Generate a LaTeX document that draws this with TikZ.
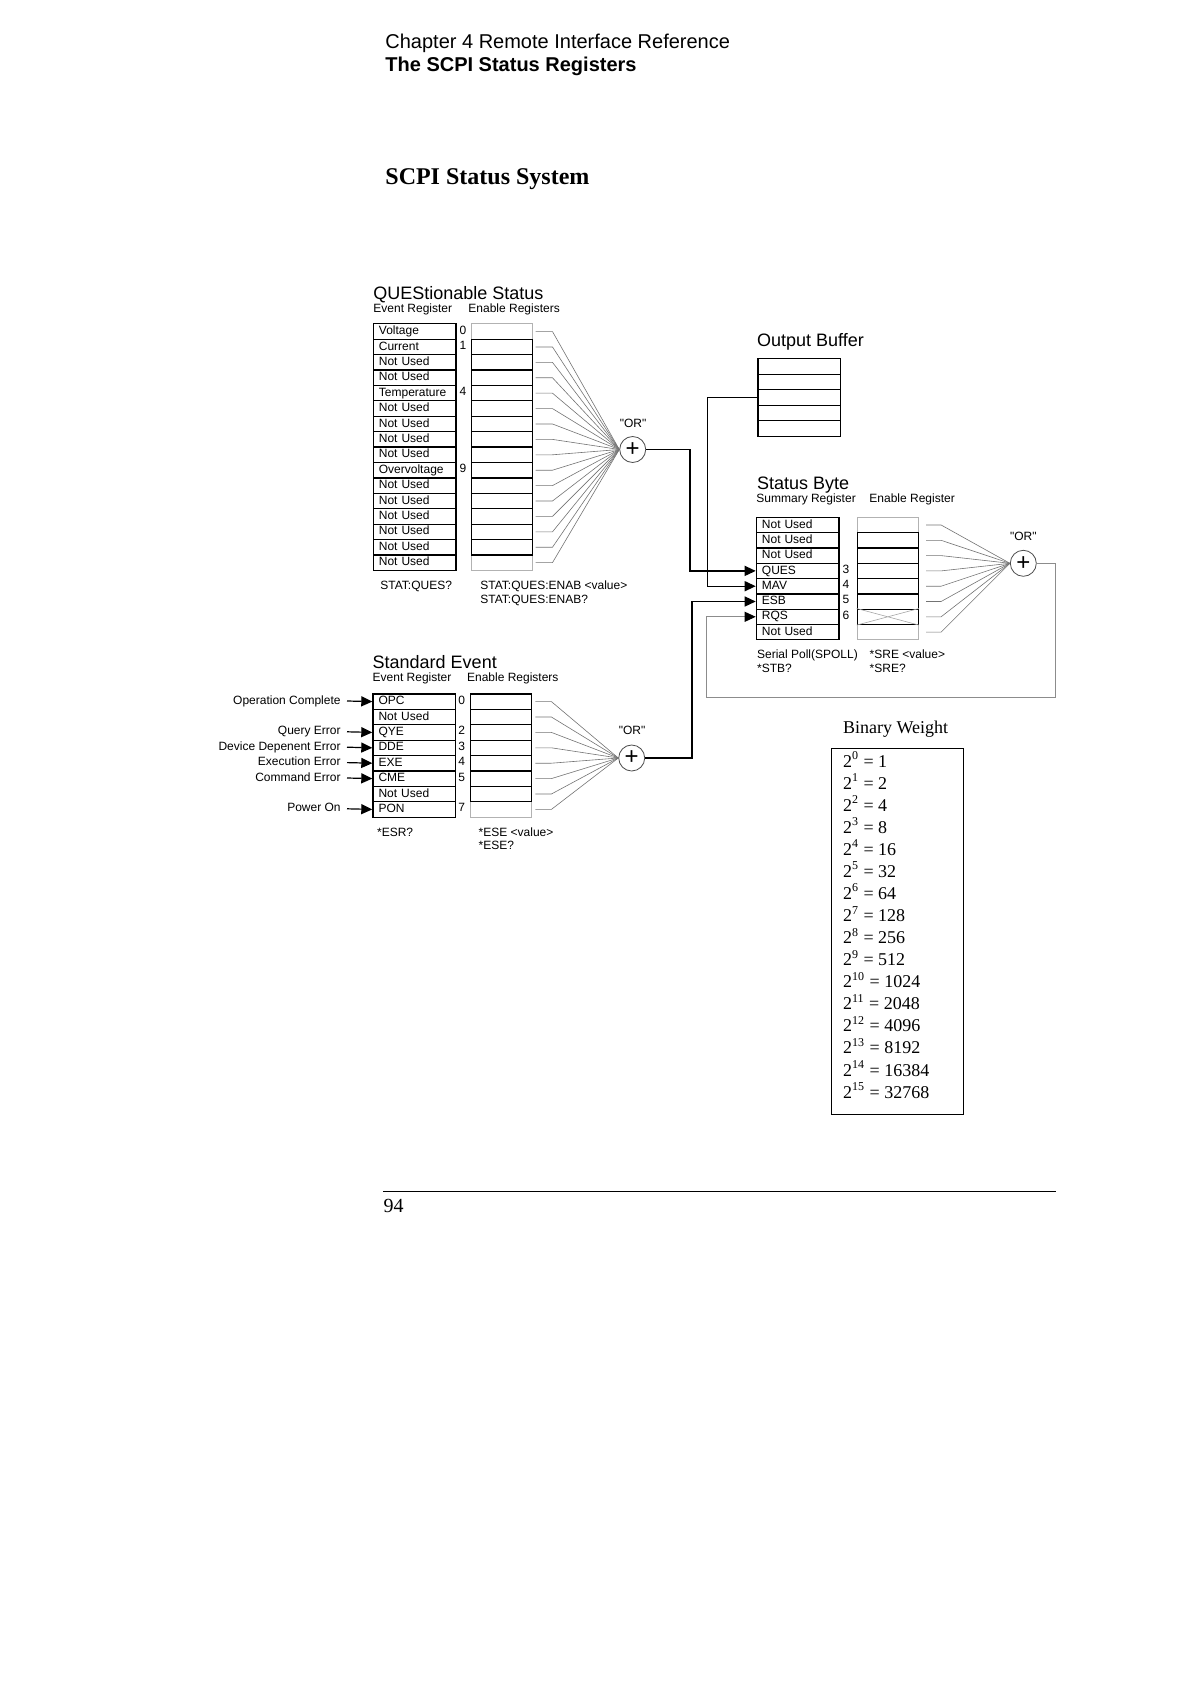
\documentclass[tikz,border=0pt]{standalone}
\usepackage{fontspec}
\setmainfont{Liberation Sans}
\newfontfamily\tms{Liberation Serif}
\usetikzlibrary{positioning,arrows.meta}
\newcommand{\straightq}{\XeTeXglyph\XeTeXcharglyph"22\relax}

\begin{document}
\begin{tikzpicture}[x=0.5pt,y=-0.5pt,
 txt/.style={inner sep=0pt,font=\fontsize{6}{7}\selectfont},
 bit/.style={txt,text height=4.4pt,text depth=1.3pt},
 ttl/.style={inner sep=0pt,anchor=base west,font=\fontsize{9}{10}\selectfont},
 evcell/.style={draw,line width=0.6pt,anchor=north west,minimum height=7.7pt,text width=35.7pt,
  inner xsep=2.8pt,inner ysep=0pt,text height=4.4pt,text depth=1.3pt,align=left,font=\fontsize{6}{7}\selectfont},
 encell/.style={draw,line width=0.6pt,anchor=north west,minimum width=30.5pt,minimum height=7.7pt,inner sep=0pt},
 faint/.style={draw=black!30},
 orgate/.style={circle,draw=black!70,line width=0.4pt,minimum size=13pt,inner sep=0pt,font=\fontsize{12}{12}\selectfont},
 fan/.style={draw=black!55,line width=0.3pt},
 conn/.style={-{Triangle[length=5.5pt,width=5pt]},line width=0.7pt},
 fb/.style={-{Triangle[length=5.5pt,width=5pt,black]},draw=black!45,line width=0.5pt},
 serif/.style={inner sep=0pt,anchor=base west,font=\tms\fontsize{9}{11}\selectfont}]
\useasboundingbox (0,0) rectangle (1191,1684);
% page head
\node[anchor=base west,inner sep=0pt,font=\fontsize{10}{12}\selectfont] (chap) at (385,49) {Chapter 4 Remote Interface Reference};
\node[anchor=base west,inner sep=0pt,font=\fontsize{10}{12}\selectfont\bfseries] (sect) at (385,71.5) {The SCPI Status Registers};
\node[anchor=base west,inner sep=0pt,font=\tms\fontsize{12}{14}\selectfont\bfseries] (systitle) at (385,185) {SCPI Status System};

% questionable status
\node[ttl] (qtitle) at (373,300) {QUEStionable Status};
\node[txt,anchor=base west] (qevlbl) at (373,312.7) {Event Register};
\node[txt,anchor=base west] (qenlbl) at (468,312.7) {Enable Registers};
\foreach \t [count=\i from 0] in {Voltage,Current,Not Used,Not Used,Temperature,Not Used,Not Used,Not Used,
 Not Used,Overvoltage,Not Used,Not Used,Not Used,Not Used,Not Used,Not Used}
 \node[evcell] (qev\i) at (372.7,{323.3+15.4*\i}) {\t};
\foreach \i in {0,15} \node[encell,faint] (qen\i) at (470.7,{323.3+15.4*\i}) {};
\foreach \i in {1,...,14} \node[encell] (qen\i) at (470.7,{323.3+15.4*\i}) {};
\foreach \b in {0,1,4,9} \node[bit] (qnum\b) at (463,{323.3+15.4*(\b+0.5)}) {\b};
\node[orgate] (qor) at (632.7,449.5) {+};
\node[txt] (qorlbl) at (633,423) {\straightq OR\straightq};
\foreach \i in {0,...,15} \draw[fan] ([xshift=1.3pt]qen\i.east) -- ++(17,0) -- (qor.west);
\node[txt,anchor=base west] (qcmd1) at (380,589) {STAT:QUES?};
\node[txt,anchor=base west] (qcmd2) at (480,589) {STAT:QUES:ENAB <value>};
\node[txt,anchor=base west] (qcmd3) at (480,603.3) {STAT:QUES:ENAB?};

% standard event
\node[ttl] (stitle) at (372.3,668.3) {Standard Event};
\node[txt,anchor=base west] (sevlbl) at (372.3,681.7) {Event Register};
\node[txt,anchor=base west] (senlbl) at (466.7,681.7) {Enable Registers};
\foreach \t [count=\i from 0] in {OPC,Not Used,QYE,DDE,EXE,CME,Not Used,PON}
 \node[evcell] (sev\i) at (372.3,{693.3+15.4*\i}) {\t};
\node[encell,faint] (sen7) at (470,{693.3+15.4*7}) {};
\foreach \i in {0,...,6} \node[encell] (sen\i) at (470,{693.3+15.4*\i}) {};
\foreach \b in {0,2,3,4,5,7} \node[bit] (snum\b) at (461.7,{693.3+15.4*(\b+0.5)}) {\b};
\foreach \t/\b in {Operation Complete/0,Query Error/2,Device Depenent Error/3,Execution Error/4,Command Error/5,Power On/7}{
 \node[bit,anchor=east,inner xsep=3pt] (sin\b) at (347,{693.3+15.4*(\b+0.5)}) {\t};
 \draw[conn,line width=0.6pt] (sin\b.east) -- (sev\b.west);}
\node[orgate] (sor) at (631.7,758) {+};
\node[txt] (sorlbl) at (632,730) {\straightq OR\straightq};
\foreach \i in {0,...,7} \draw[fan] ([xshift=1.6pt]sen\i.east) -- ++(16,0) -- (sor.west);
\node[txt,anchor=base west] (scmd1) at (376.7,836.5) {*ESR?};
\node[txt,anchor=base west] (scmd2) at (478.3,836.5) {*ESE <value>};
\node[txt,anchor=base west] (scmd3) at (478.3,849.3) {*ESE?};

% output buffer
\node[ttl] (otitle) at (756.7,346.7) {Output Buffer};
\foreach \i in {0,...,4} \node[encell,minimum width=41.35pt,minimum height=7.75pt] (ob\i) at (757.3,{358.3+15.5*\i}) {};

% status byte
\node[ttl] (btitle) at (756.7,489.3) {Status Byte};
\node[txt,anchor=base west] (bsumlbl) at (756,502.7) {Summary Register};
\node[txt,anchor=base west] (benlbl) at (869,502.7) {Enable Register};
\foreach \t [count=\i from 0] in {Not Used,Not Used,Not Used,QUES,MAV,ESB,RQS,Not Used}
 \node[evcell] (bsum\i) at (755.7,{516.7+15.3*\i}) {\t};
\foreach \i in {0,7} \node[encell,faint] (ben\i) at (856.7,{516.7+15.3*\i}) {};
\foreach \i in {1,...,6} \node[encell] (ben\i) at (856.7,{516.7+15.3*\i}) {};
\draw[fan,draw=black!35] (ben6.north west) -- (ben6.south east) (ben6.south west) -- (ben6.north east);
\foreach \b in {3,4,5,6} \node[bit] (bnum\b) at (846,{516.7+15.3*(\b+0.5)}) {\b};
\node[orgate] (bor) at (1023.3,563.3) {+};
\node[txt] (borlbl) at (1023.3,536.7) {\straightq OR\straightq};
\foreach \i in {0,...,7} \draw[fan] ([xshift=3.6pt]ben\i.east) -- ++(15,0) -- (bor.west);
\node[txt,anchor=base west] (bcmd1) at (756.7,658.3) {Serial Poll(SPOLL)};
\node[txt,anchor=base west] (bcmd2) at (756.7,672.7) {*STB?};
\node[txt,anchor=base west] (bcmd3) at (869.3,658.3) {*SRE <value>};
\node[txt,anchor=base west] (bcmd4) at (869.3,672.7) {*SRE?};

% summary lines
\draw[conn] (qor.east) -- ++(44,0) |- (bsum3.west);
\draw[conn] (ob2.west) -- ++(-50,0) |- (bsum4.west);
\draw[conn] (sor.east) -- ++(47,0) |- (bsum5.west);
\coordinate (fbturn) at (706.7,697);
\draw[fb] (bor.east) -- ++(18.7,0) |- (fbturn) |- (bsum6.west);

% binary weight
\node[serif] (bwtitle) at (842.7,733) {Binary Weight};
\node[draw,line width=0.6pt,anchor=north west,minimum width=66pt,minimum height=183.2pt,inner sep=0pt] (bwbox) at (830.7,747.7) {};
\foreach \e [count=\i from 0] in {1,2,4,8,16,32,64,128,256,512,1024,2048,4096,8192,16384,32768}
 \node[serif] (bw\i) at (842.7,{767.3+22.05*\i}) {2\textsuperscript{\i} = \e};

% page foot
\coordinate (rulel) at (383.3,1191.7);
\coordinate (ruler) at (1056,1191.7);
\draw[line width=0.6pt] (rulel) -- (ruler);
\node[anchor=base west,inner sep=0pt,font=\tms\fontsize{10}{12}\selectfont] (pgnum) at (383.3,1212.3) {94};
\end{tikzpicture}
\end{document}
